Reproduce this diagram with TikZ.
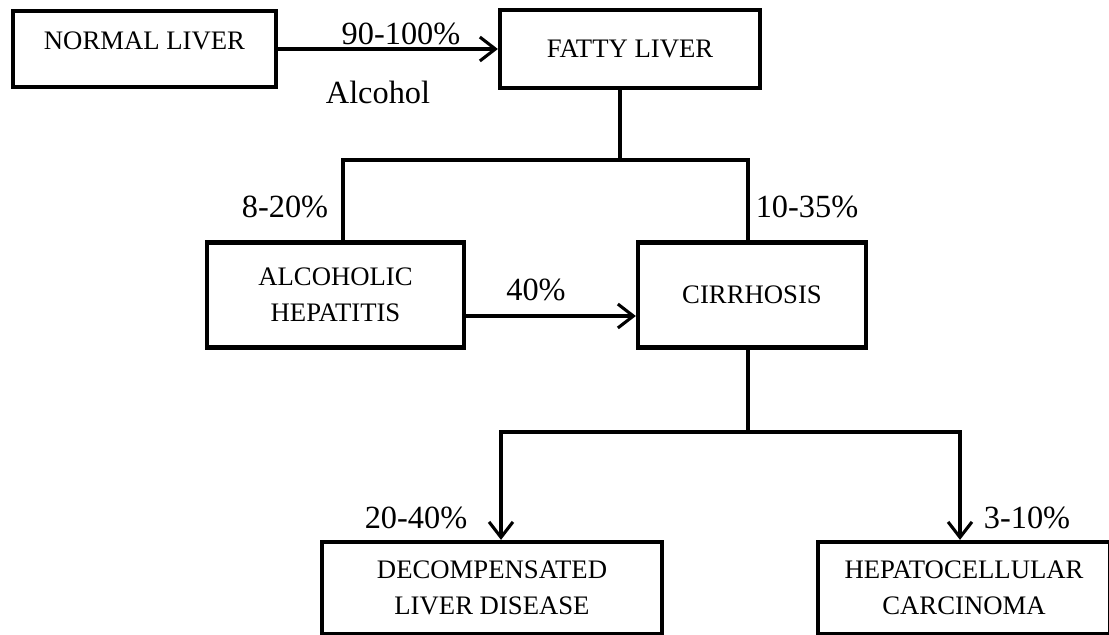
\documentclass[tikz,border=0pt]{standalone}
\usepackage{fontspec}
\setmainfont{Liberation Serif}
\usetikzlibrary{arrows.meta}

\begin{document}
\begin{tikzpicture}[
    x=0.025cm, y=-0.025cm,
    box/.style={draw, rectangle, line width=3pt, align=center, inner sep=0pt, font=\fontsize{19}{25.5}\selectfont},
    conn/.style={line width=2.2pt},
    arrow/.style={conn, -{Straight Barb[length=11pt, width=17pt, line width=2.2pt]}},
    lbl/.style={font=\fontsize{23}{27}\selectfont, inner sep=0pt}
]
\useasboundingbox (0,0) rectangle (1109,634);

% boxes
\node[box, minimum width=6.58cm, minimum height=1.9cm, text height=13pt, text depth=12pt] (normal) at (144.5,49) {NORMAL LIVER};
\node[box, minimum width=6.5cm, minimum height=1.95cm] (fatty) at (630,49) {FATTY LIVER};
\node[box, minimum width=6.42cm, minimum height=2.62cm] (hep) at (335.5,295) {ALCOHOLIC \\ HEPATITIS};
\node[box, minimum width=5.7cm, minimum height=2.62cm] (cirr) at (752,295) {CIRRHOSIS};
\node[box, minimum width=8.5cm, minimum height=2.3cm] (decomp) at (492,588) {DECOMPENSATED \\ LIVER DISEASE};
\node[box, minimum width=7.3cm, minimum height=2.3cm] (hcc) at (964,588) {HEPATOCELLULAR \\ CARCINOMA};

% branch points
\coordinate (split) at (620,160);
\coordinate (jl) at (343,160);
\coordinate (jr) at (748,160);
\coordinate (a_y) at (0,316);
\coordinate (bl) at (501,432);
\coordinate (br) at (960,432);

% connectors
\draw[arrow] (normal.east) -- (normal.east -| fatty.west);
\draw[conn] (split |- fatty.south) -- (split);
\draw[conn] (jl |- hep.north) -- (jl) -- (jr) -- (jr |- cirr.north);
\draw[arrow] (hep.east |- a_y) -- (cirr.west |- a_y);
\draw[conn] (jr |- cirr.south) -- (jr |- bl);
\draw[arrow] (br) -- (bl) -- (bl |- decomp.north);
\draw[arrow] (bl) -- (br) -- (br |- hcc.north);

% labels
\node[lbl] (p_alc) at (401,34) {90-100\%};
\node[lbl] (alc) at (378,92) {Alcohol};
\node[lbl] (p_hep) at (285,207) {8-20\%};
\node[lbl] (p_cirr) at (807,207) {10-35\%};
\node[lbl] (p_hc) at (536,290) {40\%};
\node[lbl] (p_dec) at (416,518) {20-40\%};
\node[lbl] (p_hcc) at (1027,518) {3-10\%};
\end{tikzpicture}
\end{document}
